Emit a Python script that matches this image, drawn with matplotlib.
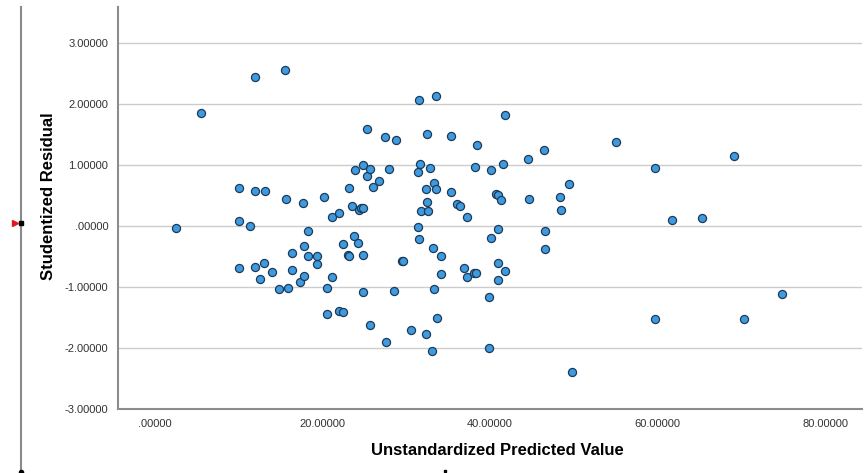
import matplotlib.pyplot as plt
from matplotlib.lines import Line2D

# predicted values and studentized residuals of the regression
pred = [2.5, 5.5, 10.0, 10.0, 10.0, 11.3, 11.9, 11.9, 11.9, 13.0,
        13.1, 12.5, 14.0, 14.8, 15.5, 15.7, 15.9, 16.4, 16.4, 17.3,
        17.7, 17.8, 17.8, 18.3, 18.3, 19.3, 19.4, 20.2, 20.5, 20.6,
        21.2, 21.2, 22.0, 22.0, 22.4, 22.5, 23.0, 23.2, 23.2, 23.5,
        23.8, 23.9, 24.3, 24.4, 24.6, 24.9, 24.9, 24.9, 24.9, 25.3,
        25.3, 25.7, 25.7, 26.0, 26.7, 27.5, 27.6, 27.9, 28.6, 28.8,
        29.5, 29.6, 30.6, 31.4, 31.4, 31.5, 31.5, 31.7, 31.8, 32.4,
        32.4, 32.5, 32.5, 32.6, 32.8, 33.1, 33.2, 33.3, 33.3, 33.5,
        33.5, 33.7, 34.2, 34.2, 35.3, 35.4, 36.1, 36.4, 36.9, 37.2,
        37.2, 38.1, 38.3, 38.2, 38.4, 39.9, 39.9, 40.1, 40.1, 40.7,
        40.9, 41.0, 41.0, 41.0, 41.3, 41.6, 41.8, 41.8, 44.5, 44.7,
        46.5, 46.6, 46.6, 48.4, 48.5, 49.4, 49.8, 55.0, 59.7, 59.7,
        61.7, 65.3, 69.1, 70.3, 74.9]
resid = [-0.03, 1.86, 0.63, 0.08, -0.69, 0.00, 2.45, 0.57, -0.68, -0.61,
         0.57, -0.87, -0.75, -1.03, 2.55, 0.45, -1.02, -0.44, -0.72, -0.92,
         0.38, -0.32, -0.82, -0.08, -0.50, -0.63, -0.50, 0.48, -1.44, -1.01,
         0.14, -0.84, 0.22, -1.40, -0.29, -1.41, -0.48, -0.50, 0.62, 0.33,
         -0.17, 0.92, -0.28, 0.26, 0.29, 0.29, 1.00, -0.47, -1.09, 1.59,
         0.82, 0.93, -1.63, 0.64, 0.73, 1.46, -1.90, 0.93, -1.07, 1.41,
         -0.58, -0.58, -1.70, 0.88, -0.01, 2.06, -0.22, 1.01, 0.24, 0.61,
         -1.77, 1.50, 0.40, 0.25, 0.95, -2.05, -0.36, 0.70, -1.04, 2.13,
         0.61, -1.51, -0.49, -0.78, 1.47, 0.55, 0.36, 0.33, -0.69, 0.14,
         -0.83, -0.77, -0.77, 0.97, 1.33, -1.16, -2.00, 0.92, -0.19, 0.53,
         -0.89, 0.50, -0.05, -0.61, 0.42, 1.02, 1.82, -0.74, 1.10, 0.45,
         1.24, -0.09, -0.38, 0.47, 0.26, 0.69, -2.39, 1.37, 0.95, -1.53,
         0.10, 0.13, 1.14, -1.53, -1.11]

xticks = [0, 20, 40, 60, 80]
yticks = [-3, -2, -1, 0, 1, 2, 3]

plt.rcParams['font.family'] = ['Liberation Sans', 'DejaVu Sans']

fig = plt.figure(figsize=(8.64, 4.73), dpi=100)
ax = fig.add_axes([118 / 864, 1 - 409 / 473, 744 / 864, 402 / 473])

ax.scatter(pred, resid, s=34, facecolor='#3e9be0', edgecolor='#1d3a58',
           linewidth=0.9, zorder=3)

ax.set_xlim(-4.4, 84.4)
ax.set_ylim(-3, 3.59)
ax.set_xticks(xticks)
ax.set_yticks(yticks)
ax.set_xticklabels(['.00000' if v == 0 else f'{v:.5f}' for v in xticks])
ax.set_yticklabels(['.00000' if v == 0 else f'{v:.5f}' for v in yticks])
ax.tick_params(length=0, labelsize=8, colors='#333333', pad=7)

ax.grid(axis='y', color='#cccccc', linewidth=1.0)
ax.set_axisbelow(True)
for side in ['top', 'right']:
    ax.spines[side].set_visible(False)
for side in ['left', 'bottom']:
    ax.spines[side].set_color('#8c8c8c')
    ax.spines[side].set_linewidth(1.5)

ax.set_xlabel('Unstandardized Predicted Value', fontsize=12, fontweight='bold')
ax.set_ylabel('Studentized Residual', fontsize=12, fontweight='bold')
ax.xaxis.set_label_coords(0.51, -0.085)
ax.yaxis.set_label_coords(-0.083, 0.53)

# editor ruler on the left edge
fig.add_artist(Line2D([21 / 864, 21 / 864], [0, 1 - 7 / 473],
                      color='#8a8a8a', linewidth=1.5))
fig.add_artist(Line2D([21 / 864], [1 - 223 / 473], marker='s', markersize=3.5,
                      color='black', linestyle='none'))
fig.add_artist(Line2D([15 / 864], [1 - 223 / 473], marker='>', markersize=5,
                      color='#e8141c', linestyle='none'))
fig.add_artist(Line2D([21 / 864], [1 / 473], marker='o', markersize=3,
                      color='black', linestyle='none'))
fig.add_artist(Line2D([445 / 864], [2 / 473], marker='s', markersize=2,
                      color='black', linestyle='none'))

fig.savefig('out.png', dpi=100)
